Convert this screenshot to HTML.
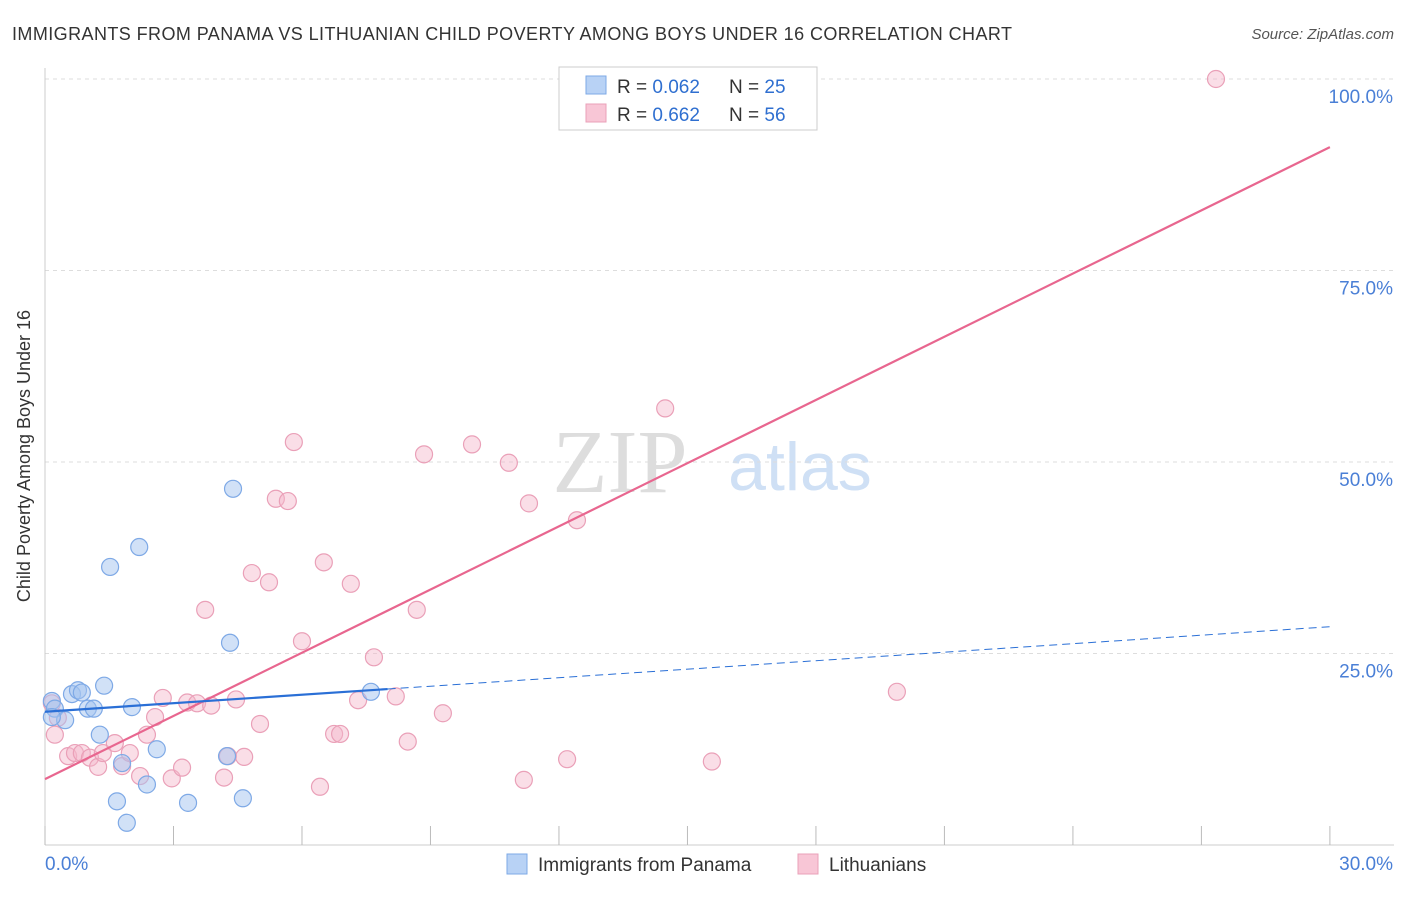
<!DOCTYPE html>
<html><head><meta charset="utf-8"><style>
body{margin:0;background:#fff;font-family:"Liberation Sans",sans-serif;}
</style></head><body>
<svg width="1406" height="892" xmlns="http://www.w3.org/2000/svg" id="chart" style="font-family:'Liberation Sans',sans-serif">
<text x="12" y="40" font-size="18" fill="#333" textLength="1000">IMMIGRANTS FROM PANAMA VS LITHUANIAN CHILD POVERTY AMONG BOYS UNDER 16 CORRELATION CHART</text>
<text x="1394" y="39" font-size="15" fill="#555" text-anchor="end" font-style="italic">Source: ZipAtlas.com</text>
<text x="30" y="456" font-size="18" fill="#333" text-anchor="middle" transform="rotate(-90 30 456)">Child Poverty Among Boys Under 16</text>
<text x="620" y="492" font-size="90" fill="#ddd" font-family="Liberation Serif,serif" text-anchor="middle">ZIP</text>
<text x="800" y="490" font-size="68" fill="#cfe0f5" text-anchor="middle">atlas</text>
<g id="grid"></g><g id="axes"></g><g id="pts"></g><g id="lines"></g>
<g>
<rect x="559" y="67" width="258" height="63" fill="#fff" stroke="#ccc"/>
<rect x="586" y="76" width="20" height="18" fill="#b8d2f5" stroke="#7ea9e6"/>
<rect x="586" y="104" width="20" height="18" fill="#f8c6d6" stroke="#eaa0b8"/>
<text x="617" y="93" font-size="19" fill="#333">R = <tspan fill="#2f6fd0">0.062</tspan></text>
<text x="729" y="93" font-size="19" fill="#333">N = <tspan fill="#2f6fd0">25</tspan></text>
<text x="617" y="121" font-size="19" fill="#333">R = <tspan fill="#2f6fd0">0.662</tspan></text>
<text x="729" y="121" font-size="19" fill="#333">N = <tspan fill="#2f6fd0">56</tspan></text>
</g>
<g>
<rect x="507" y="854" width="20" height="20" fill="#b8d2f5" stroke="#7ea9e6"/>
<text x="538" y="871" font-size="19" fill="#333">Immigrants from Panama</text>
<rect x="798" y="854" width="20" height="20" fill="#f8c6d6" stroke="#eaa0b8"/>
<text x="829" y="871" font-size="19" fill="#333">Lithuanians</text>
</g>
</svg>
<script>
const yTicks=[25,50,75,100];
const xTickLabels=["0.0%","30.0%"];
const panamaX=[0.16,0.23,0.47,0.63,0.77,0.86,1.0,1.14,1.28,1.38,1.52,1.68,1.8,1.91,2.03,2.2,2.38,2.61,3.34,4.25,4.32,4.39,4.62,7.61,0.16];
const panamaY=[18.8,17.8,16.3,19.7,20.2,19.9,17.8,17.8,14.4,20.8,36.3,5.7,10.7,2.9,18.0,38.9,7.9,12.5,5.5,11.6,26.4,46.5,6.1,20.0,16.7];
const lithX=[0.16,0.23,0.3,0.54,0.7,0.86,1.05,1.24,1.35,1.63,1.8,1.98,2.22,2.38,2.57,2.75,2.96,3.2,3.32,3.55,3.74,3.88,4.18,4.27,4.46,4.65,4.83,5.02,5.23,5.39,5.67,5.81,6.0,6.42,6.51,6.75,6.89,7.14,7.31,7.68,8.19,8.47,8.68,8.85,9.29,9.97,10.83,11.18,11.3,12.19,12.42,14.48,15.57,16.04,19.89,27.34];
const lithY=[18.5,14.4,16.6,11.6,12.0,12.0,11.4,10.2,12.0,13.3,10.3,12.0,9.0,14.4,16.7,19.2,8.7,10.1,18.6,18.5,30.7,18.2,8.8,11.6,19.0,11.5,35.5,15.8,34.3,45.2,44.9,52.6,26.6,7.6,36.9,14.5,14.5,34.1,18.9,24.5,19.4,13.5,30.7,51.0,17.2,52.3,49.9,8.5,44.6,11.2,42.4,57.0,10.9,100,20.0,100];
const panamaFit=[17.4,0.37];
const lithFit=[8.6,2.75];
const ns="http://www.w3.org/2000/svg";
const X=v=>45+v*42.83, Y=v=>845-v*7.66;
function mk(t,a,p){const e=document.createElementNS(ns,t);for(const k in a)e.setAttribute(k,a[k]);document.getElementById(p).appendChild(e);return e;}
yTicks.forEach(t=>{
 const l=mk('line',{x1:45,x2:1394,y1:Y(t),y2:Y(t),stroke:'#ddd','stroke-dasharray':'4,4'},'grid');
 
 
 const tx=mk('text',{x:1393,y:Y(t)+24,'font-size':19,fill:'#4a7fd6','text-anchor':'end'},'grid');tx.textContent=t.toFixed(1)+'%';
 
 
});
const ax=mk('line',{x1:45,x2:45,y1:68,y2:845,stroke:'#ccc'},'axes');


const bx=mk('line',{x1:45,x2:1394,y1:845,y2:845,stroke:'#ccc'},'axes');


for(let i=0;i<=10;i++){const t=mk('line',{x1:X(i*3),x2:X(i*3),y1:826,y2:845,stroke:'#bbb'},'axes');
 
 }
[[0,45,'start'],[30,1393,'end']].forEach((d,i)=>{const t=mk('text',{x:d[1],y:870,'font-size':19,fill:'#4a7fd6','text-anchor':d[2]},'axes');t.textContent=xTickLabels[i];
 
 });
lithX.forEach((x,i)=>{const c=mk('circle',{cx:X(x),cy:Y(lithY[i]),r:8.5,fill:'rgba(244,182,202,0.45)',stroke:'#eaa0b8','stroke-width':1.2},'pts');
 
 });
panamaX.forEach((x,i)=>{const c=mk('circle',{cx:X(x),cy:Y(panamaY[i]),r:8.5,fill:'rgba(163,196,240,0.5)',stroke:'#7ea9e6','stroke-width':1.2},'pts');
 
 });
const f=(fit,x)=>fit[0]+fit[1]*x;
const l1=mk('line',{x1:X(0),y1:Y(f(lithFit,0)),x2:X(30),y2:Y(f(lithFit,30)),stroke:'#e8668f','stroke-width':2.2},'lines');


const l2=mk('line',{x1:X(0),y1:Y(f(panamaFit,0)),x2:X(8),y2:Y(f(panamaFit,8)),stroke:'#2a6fd6','stroke-width':2.2},'lines');


const l3=mk('line',{x1:X(8),y1:Y(f(panamaFit,8)),x2:X(30),y2:Y(f(panamaFit,30)),stroke:'#2a6fd6','stroke-width':1,'stroke-dasharray':'8,5'},'lines');


</script>
</body></html>
